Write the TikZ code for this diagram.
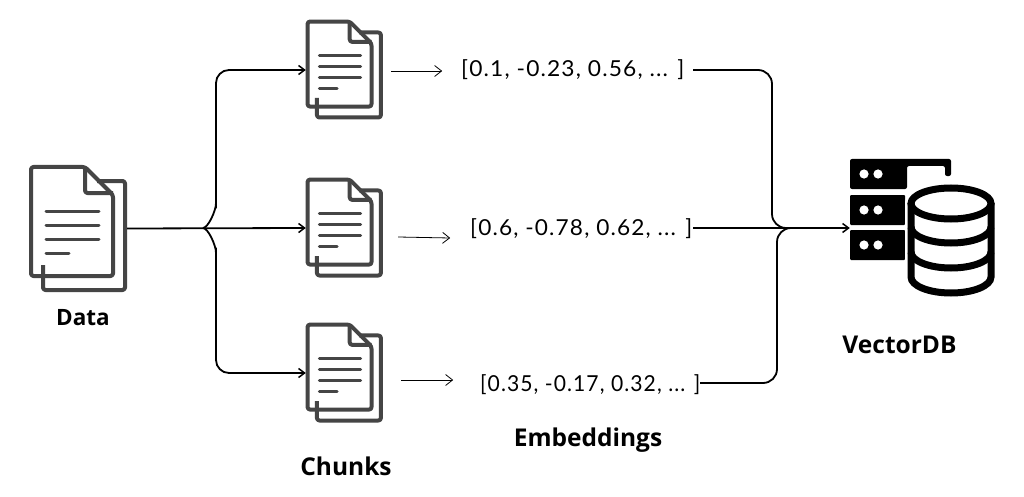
\documentclass[tikz,border=0pt]{standalone}
\usepackage{fontspec}
\setmainfont{Open Sans}
\newfontfamily\capfont{Open Sans}[BoldFont={Open Sans Bold}]
\newfontfamily\handfont{Lato}[LetterSpace=5]
\usetikzlibrary{arrows.meta}
\definecolor{icongrey}{HTML}{454545}
\tikzset{
  x=1pt,y=-1pt,
  conn/.style={draw=black,line width=1.8pt,rounded corners=13pt,-{Straight Barb[length=6pt,width=9pt,line width=1.5pt]}},
  connplain/.style={draw=black,line width=1.8pt,rounded corners=14pt},
  sketch/.style={draw=black,line width=0.8pt,-{Straight Barb[length=7pt,width=11pt,line width=0.8pt]}},
  caption/.style={font=\capfont\fontsize{24.5}{27}\selectfont\bfseries,text=black,inner sep=0pt},
  vec/.style={font=\handfont\fontsize{22}{24}\selectfont,text=black,inner sep=0pt,anchor=west,transform shape},
  iconbox/.style={inner sep=0pt,minimum width=#1,draw=none},
  doc/.pic={
    \begin{scope}[line width=4pt,draw=icongrey,line join=round]
      \draw[rounded corners=2.5pt] (14,100) -- (14,125) -- (96,125) -- (96,16) -- (68,16);
      \draw[rounded corners=2.5pt] (2,2) -- (56,2) -- (84,30) -- (84,111) -- (2,111) -- cycle;
      \draw[rounded corners=2.5pt] (56,2) -- (56,28) -- (84,28);
    \end{scope}
    \begin{scope}[line width=3pt,draw=icongrey,line cap=round]
      \draw (17,46) -- (70,46);
      \draw (17,60) -- (70,60);
      \draw (17,74) -- (70,74);
      \draw (17,88) -- (40,88);
    \end{scope}
  }
}
\begin{document}
\begin{tikzpicture}
\useasboundingbox[fill=white] (0,0) rectangle (1024,497);

\node[iconbox=98pt,minimum height=127pt] (data) at (78,228.5) {};
\node[iconbox=76pt,minimum height=100pt] (chunkA) at (344,70) {};
\node[iconbox=76pt,minimum height=100pt] (chunkB) at (344,228) {};
\node[iconbox=76pt,minimum height=100pt] (chunkC) at (344,373) {};
\node[iconbox=145pt,minimum height=138pt] (db) at (922.5,228) {};

\pic at (29,165) {doc};
\pic[scale=0.78] at (306,20) {doc};
\pic[scale=0.78] at (306,178) {doc};
\pic[scale=0.78] at (306,323) {doc};

\fill[black,rounded corners=2pt] (850,159) -- (951,159) -- (951,176) -- (945,176) -- (945,166) -- (907,166) -- (907,189) -- (850,189) -- cycle;
\fill[black,rounded corners=1pt] (850,195) rectangle (905,225);
\fill[black,rounded corners=1pt] (850,230) rectangle (905,260);
\foreach \yy in {174,210,245}{
  \fill[white] (864,\yy) circle (4.6);
  \fill[white] (878,\yy) circle (4.6);
}
\draw[white,line width=12pt,fill=white] (911,203) -- (911,277) arc[start angle=180,end angle=0,x radius=40,y radius=16] -- (991,203) arc[start angle=0,end angle=-180,x radius=40,y radius=16] -- cycle;
\begin{scope}[line width=7pt,draw=black]
  \draw (951,203.5) ellipse [x radius=40,y radius=15.5];
  \draw (911,203) -- (911,277) arc[start angle=180,end angle=0,x radius=40,y radius=16] -- (991,203);
  \draw (911,227) arc[start angle=180,end angle=0,x radius=40,y radius=16];
  \draw (911,252) arc[start angle=180,end angle=0,x radius=40,y radius=16];
\end{scope}

\node[caption,font=\capfont\fontsize{22.5}{25}\selectfont\bfseries] (dataLabel) at (83,318) {Data};
\node[caption] (chunksLabel) at (346,466) {Chunks};
\node[caption] (embLabel) at (588,440) {Embeddings};
\node[caption] (dbLabel) at (899.5,345) {VectorDB};

\node[vec,xscale=1.035] (vecA) at (461,70) {[0.1, -0.23, 0.56, ... ]};
\node[vec,xscale=1.03] (vecB) at (470,229) {[0.6, -0.78, 0.62, ... ]};
\node[vec,xscale=0.96] (vecC) at (480,385) {[0.35, -0.17, 0.32, ... ]};

\coordinate (forkL) at (203,228);

\draw[conn] (data.east) -- (chunkB.west);
\draw[conn] (forkL) to[out=0,in=90,looseness=0.7] (216,216) -- (216,70) -- (chunkA.west);
\draw[conn] (forkL) to[out=0,in=-90,looseness=0.7] (216,240) -- (216,373) -- (chunkC.west);

\draw[sketch] (chunkA.east)++(9,1) -- ++(51,0);
\draw[sketch] (chunkB.east)++(16,9) -- ++(52,1);
\draw[sketch] (chunkC.east)++(19,7) -- ++(52,0);

\coordinate (forkR) at (790,228);
\coordinate (vecAend) at (693,70);
\coordinate (vecBend) at (693,228);
\coordinate (vecCend) at (700,383);
\draw[connplain] (vecAend) -- (772,70) -- (772,228) -- (forkR);
\draw[connplain] (vecCend) -- (777,383) -- (777,228) -- (forkR);
\draw[conn] (vecBend) -- (db.west);
\end{tikzpicture}
\end{document}
